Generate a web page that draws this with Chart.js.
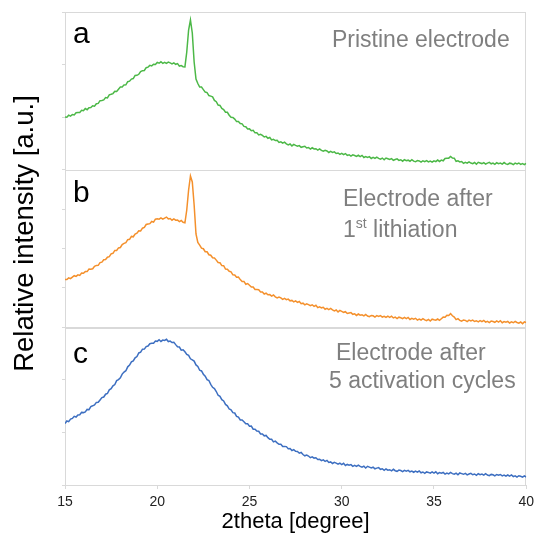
<!DOCTYPE html>
<html>
<head>
<meta charset="utf-8">
<script src="https://cdn.jsdelivr.net/npm/chart.js@4.4.0/dist/chart.umd.min.js"></script>
<style>
  html, body { margin: 0; padding: 0; background: #fff; }
  canvas { display: block; }
</style>
</head>
<body>
<canvas id="xrdChart" width="539" height="539"></canvas>
<script>
// 2theta positions (degree)
var twoTheta = [
  15, 15.1, 15.2, 15.3, 15.4, 15.5, 15.6, 15.7, 15.8, 15.9,
  16, 16.1, 16.2, 16.3, 16.4, 16.5, 16.6, 16.7, 16.8, 16.9,
  17, 17.1, 17.2, 17.3, 17.4, 17.5, 17.6, 17.7, 17.8, 17.9,
  18, 18.1, 18.2, 18.3, 18.4, 18.5, 18.6, 18.7, 18.8, 18.9,
  19, 19.1, 19.2, 19.3, 19.4, 19.5, 19.6, 19.7, 19.8, 19.9,
  20, 20.1, 20.2, 20.3, 20.4, 20.5, 20.6, 20.7, 20.8, 20.9,
  21, 21.1, 21.2, 21.3, 21.4, 21.5, 21.6, 21.7, 21.8, 21.9,
  22, 22.1, 22.2, 22.3, 22.4, 22.5, 22.6, 22.7, 22.8, 22.9,
  23, 23.1, 23.2, 23.3, 23.4, 23.5, 23.6, 23.7, 23.8, 23.9,
  24, 24.1, 24.2, 24.3, 24.4, 24.5, 24.6, 24.7, 24.8, 24.9,
  25, 25.1, 25.2, 25.3, 25.4, 25.5, 25.6, 25.7, 25.8, 25.9,
  26, 26.1, 26.2, 26.3, 26.4, 26.5, 26.6, 26.7, 26.8, 26.9,
  27, 27.1, 27.2, 27.3, 27.4, 27.5, 27.6, 27.7, 27.8, 27.9,
  28, 28.1, 28.2, 28.3, 28.4, 28.5, 28.6, 28.7, 28.8, 28.9,
  29, 29.1, 29.2, 29.3, 29.4, 29.5, 29.6, 29.7, 29.8, 29.9,
  30, 30.1, 30.2, 30.3, 30.4, 30.5, 30.6, 30.7, 30.8, 30.9,
  31, 31.1, 31.2, 31.3, 31.4, 31.5, 31.6, 31.7, 31.8, 31.9,
  32, 32.1, 32.2, 32.3, 32.4, 32.5, 32.6, 32.7, 32.8, 32.9,
  33, 33.1, 33.2, 33.3, 33.4, 33.5, 33.6, 33.7, 33.8, 33.9,
  34, 34.1, 34.2, 34.3, 34.4, 34.5, 34.6, 34.7, 34.8, 34.9,
  35, 35.1, 35.2, 35.3, 35.4, 35.5, 35.6, 35.7, 35.8, 35.9,
  36, 36.1, 36.2, 36.3, 36.4, 36.5, 36.6, 36.7, 36.8, 36.9,
  37, 37.1, 37.2, 37.3, 37.4, 37.5, 37.6, 37.7, 37.8, 37.9,
  38, 38.1, 38.2, 38.3, 38.4, 38.5, 38.6, 38.7, 38.8, 38.9,
  39, 39.1, 39.2, 39.3, 39.4, 39.5, 39.6, 39.7, 39.8, 39.9,
  40
];

// a: pristine electrode
var pristine = [
  1652, 1646, 1686, 1668, 1700, 1690, 1734, 1740, 1740, 1782,
  1774, 1818, 1796, 1836, 1840, 1874, 1866, 1914, 1922, 1976,
  1978, 1990, 2038, 2030, 2092, 2104, 2118, 2164, 2162, 2206,
  2248, 2248, 2292, 2294, 2356, 2366, 2408, 2418, 2480, 2484,
  2504, 2556, 2576, 2580, 2636, 2648, 2682, 2672, 2704, 2700,
  2742, 2725, 2754, 2724, 2745, 2724, 2747, 2732, 2712, 2733,
  2704, 2718, 2668, 2678, 2656, 2652, 2950, 3390, 3590, 3330,
  2750, 2410, 2320, 2248, 2248, 2198, 2148, 2138, 2079, 2067,
  2052, 1982, 1956, 1888, 1880, 1820, 1799, 1746, 1745, 1686,
  1644, 1642, 1608, 1558, 1560, 1518, 1512, 1462, 1454, 1410,
  1412, 1374, 1382, 1332, 1332, 1290, 1304, 1280, 1250, 1262,
  1224, 1240, 1190, 1202, 1178, 1184, 1141, 1154, 1127, 1146,
  1112, 1093, 1110, 1071, 1102, 1082, 1064, 1077, 1043, 1054,
  1064, 1030, 1039, 1007, 1034, 1010, 1015, 988, 1013, 981,
  964, 983, 970, 940, 963, 942, 953, 920, 930, 903,
  922, 897, 918, 882, 895, 866, 892, 879, 861, 884,
  858, 882, 839, 859, 842, 856, 820, 841, 821, 848,
  822, 807, 828, 794, 829, 814, 799, 816, 784, 799,
  812, 781, 794, 766, 797, 776, 786, 764, 794, 766,
  754, 778, 770, 746, 774, 758, 776, 750, 766, 746,
  772, 756, 788, 760, 788, 774, 820, 826, 826, 860,
  828, 826, 764, 774, 750, 760, 722, 744, 726, 752,
  728, 715, 739, 706, 744, 731, 718, 738, 709, 727,
  742, 713, 728, 702, 735, 716, 728, 707, 738, 711,
  701, 726, 719, 697, 726, 711, 729, 702, 717, 697,
  722
];

// b: electrode after 1st lithiation
var lithiated = [
  1280, 1280, 1313, 1297, 1328, 1356, 1342, 1373, 1361, 1410,
  1406, 1438, 1438, 1490, 1484, 1494, 1544, 1562, 1564, 1618,
  1628, 1676, 1680, 1726, 1736, 1792, 1804, 1862, 1862, 1912,
  1920, 1980, 2002, 2018, 2076, 2084, 2142, 2134, 2188, 2206,
  2254, 2252, 2306, 2320, 2380, 2388, 2396, 2440, 2428, 2486,
  2494, 2486, 2510, 2486, 2508, 2528, 2492, 2500, 2466, 2492,
  2466, 2468, 2438, 2460, 2424, 2414, 2670, 3070, 3350, 3230,
  2770, 2190, 2020, 1966, 1907, 1895, 1836, 1834, 1775, 1765,
  1714, 1710, 1668, 1620, 1614, 1558, 1557, 1490, 1486, 1445,
  1434, 1374, 1370, 1326, 1328, 1278, 1242, 1242, 1186, 1200,
  1164, 1131, 1130, 1082, 1079, 1074, 1031, 1032, 990, 1009,
  976, 978, 948, 970, 934, 914, 930, 914, 882, 902,
  878, 888, 854, 862, 834, 852, 823, 840, 798, 807,
  774, 795, 778, 756, 775, 744, 764, 718, 734, 714,
  724, 685, 702, 678, 701, 672, 653, 670, 632, 663,
  644, 624, 636, 600, 610, 618, 584, 594, 562, 590,
  566, 575, 552, 580, 551, 538, 562, 554, 530, 558,
  542, 558, 530, 544, 522, 546, 523, 546, 512, 527,
  500, 527, 516, 498, 523, 498, 523, 482, 504, 489,
  504, 469, 490, 470, 497, 472, 459, 482, 450, 487,
  474, 466, 490, 464, 496, 528, 524, 566, 560, 598,
  556, 528, 478, 498, 464, 448, 472, 464, 440, 468,
  452, 469, 441, 456, 434, 459, 438, 462, 429, 445,
  420, 449, 440, 425, 452, 429, 456, 417, 440, 427,
  444, 411, 433, 416, 444, 421, 408, 430, 397, 433,
  420
];

// c: electrode after 5 activation cycles
var cycled = [
  1838, 1891, 1878, 1928, 1941, 1984, 1970, 2012, 2014, 2062,
  2058, 2072, 2122, 2116, 2180, 2194, 2212, 2262, 2264, 2312,
  2358, 2370, 2426, 2440, 2514, 2536, 2594, 2620, 2698, 2718,
  2754, 2828, 2870, 2896, 2974, 3008, 3072, 3092, 3154, 3180,
  3252, 3266, 3326, 3328, 3380, 3390, 3436, 3444, 3446, 3490,
  3484, 3516, 3482, 3510, 3502, 3524, 3479, 3489, 3460, 3465,
  3418, 3376, 3370, 3308, 3316, 3274, 3222, 3202, 3134, 3112,
  3088, 3012, 2980, 2906, 2892, 2826, 2788, 2718, 2700, 2624,
  2564, 2538, 2480, 2406, 2384, 2318, 2292, 2222, 2194, 2130,
  2112, 2058, 2050, 1984, 1968, 1910, 1912, 1876, 1834, 1834,
  1784, 1788, 1726, 1726, 1690, 1684, 1630, 1632, 1594, 1602,
  1558, 1524, 1526, 1472, 1488, 1454, 1424, 1426, 1380, 1380,
  1378, 1336, 1338, 1298, 1318, 1286, 1282, 1246, 1262, 1220,
  1194, 1208, 1190, 1156, 1174, 1148, 1156, 1120, 1126, 1096,
  1112, 1084, 1102, 1062, 1072, 1040, 1063, 1048, 1028, 1049,
  1020, 1044, 1001, 1021, 1004, 1018, 982, 1002, 982, 1008,
  982, 966, 986, 950, 984, 968, 951, 966, 934, 947,
  958, 924, 934, 902, 930, 906, 916, 894, 924, 896,
  884, 908, 900, 876, 904, 888, 903, 874, 888, 865,
  888, 866, 889, 855, 870, 844, 872, 862, 846, 872,
  848, 874, 835, 857, 844, 860, 827, 850, 832, 861,
  838, 825, 848, 814, 851, 838, 824, 843, 813, 830,
  844, 815, 830, 802, 835, 816, 827, 806, 836, 809,
  798, 822, 815, 791, 820, 804, 820, 793, 807, 786,
  810, 788, 812, 777, 793, 767, 795, 785, 768, 794,
  770
];

var panelLetters = ["a", "b", "c"];
var panelNotes = [
  ["Pristine electrode"],
  ["Electrode after", "1st lithiation"],
  ["Electrode after", "5 activation cycles"]
];
var xTitle = "2theta [degree]";
var yTitle = "Relative intensity [a.u.]";

var fontFamily = "'Liberation Sans', Arial, sans-serif";
Chart.defaults.font.family = fontFamily;

function points(ys) {
  return twoTheta.map(function (x, i) { return { x: x, y: ys[i] }; });
}

function panelAxis(min, max, step) {
  return {
    type: "linear",
    position: "left",
    stack: "xrd",
    stackWeight: 1,
    min: min,
    max: max,
    ticks: { display: false, stepSize: step, includeBounds: false },
    grid: { drawOnChartArea: false, tickLength: 3, color: "#d9d9d9" },
    border: { color: "#d9d9d9" },
    afterFit: function (s) { s.width = 3; }
  };
}

// note lines; "1st" gets its superscript
function drawNote(ctx, text, x, y) {
  if (text.indexOf("1st") === 0) {
    ctx.font = "23px " + fontFamily;
    ctx.fillText("1", x, y);
    x += ctx.measureText("1").width;
    ctx.font = "14px " + fontFamily;
    ctx.fillText("st", x, y - 9);
    x += ctx.measureText("st").width;
    ctx.font = "23px " + fontFamily;
    ctx.fillText(text.slice(3), x, y);
  } else {
    ctx.font = "23px " + fontFamily;
    ctx.fillText(text, x, y);
  }
}

var panelDecor = {
  id: "panelDecor",
  beforeDatasetsDraw: function (chart) {
    var ctx = chart.ctx;
    var area = chart.chartArea;
    ctx.save();
    ctx.strokeStyle = "#d9d9d9";
    ctx.lineWidth = 1;
    ["yA", "yB", "yC"].forEach(function (id) {
      var s = chart.scales[id];
      ctx.strokeRect(Math.round(area.left) + 0.5, Math.round(s.top) + 0.5,
        Math.round(area.right - area.left) - 1, Math.round(s.bottom - s.top));
    });
    ctx.restore();
  },
  afterDraw: function (chart) {
    var ctx = chart.ctx;
    var area = chart.chartArea;
    var ids = ["yA", "yB", "yC"];
    var letterDrop = [31, 32.5, 35.5];
    var noteX = [[267], [278, 278], [271, 264]];
    var noteY = [[35], [36, 67], [33, 61]];
    ctx.save();
    ctx.textAlign = "left";
    ctx.textBaseline = "alphabetic";
    ids.forEach(function (id, i) {
      var s = chart.scales[id];
      ctx.fillStyle = "#000";
      ctx.font = "30px " + fontFamily;
      ctx.fillText(panelLetters[i], area.left + 8, s.top + letterDrop[i]);
      ctx.fillStyle = "#7f7f7f";
      panelNotes[i].forEach(function (line, j) {
        drawNote(ctx, line, area.left + noteX[i][j], s.top + noteY[i][j]);
      });
    });

    ctx.fillStyle = "#000";
    ctx.font = "22px " + fontFamily;
    ctx.textAlign = "center";
    ctx.fillText(xTitle, (area.left + area.right) / 2, 528);

    ctx.translate(33, (area.top + area.bottom) / 2 - 15);
    ctx.rotate(-Math.PI / 2);
    ctx.font = "27.5px " + fontFamily;
    ctx.fillText(yTitle, 0, 0);
    ctx.restore();
  }
};

var lineStyle = { borderWidth: 1.5, pointRadius: 0, tension: 0, fill: false };

var xrdChart = new Chart(document.getElementById("xrdChart"), {
  type: "line",
  data: {
    datasets: [
      Object.assign({ label: "a", data: points(pristine), borderColor: "#4cb847", yAxisID: "yA" }, lineStyle),
      Object.assign({ label: "b", data: points(lithiated), borderColor: "#f4902c", yAxisID: "yB" }, lineStyle),
      Object.assign({ label: "c", data: points(cycled), borderColor: "#3d6fc1", yAxisID: "yC" }, lineStyle)
    ]
  },
  options: {
    responsive: false,
    animation: false,
    devicePixelRatio: 1,
    layout: { padding: { left: 62, right: 9, top: 12, bottom: 0 } },
    plugins: { legend: { display: false }, tooltip: { enabled: false } },
    scales: {
      x: {
        type: "linear",
        min: 15,
        max: 40,
        ticks: { stepSize: 5, color: "#222", font: { size: 14 }, padding: 5, maxRotation: 0 },
        grid: { drawOnChartArea: false, tickLength: 4, color: "#d9d9d9" },
        border: { color: "#d9d9d9" },
        afterFit: function (s) { s.height = 54; }
      },
      yC: panelAxis(610, 3764, 1050),
      yB: panelAxis(324, 3476, 830),
      yA: panelAxis(596, 3750, 970)
    }
  },
  plugins: [panelDecor]
});
</script>
</body>
</html>
